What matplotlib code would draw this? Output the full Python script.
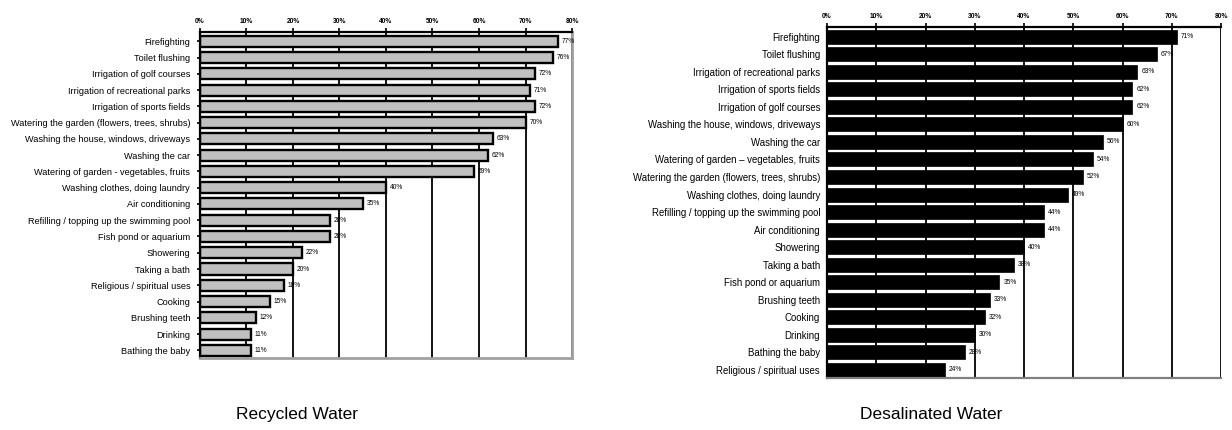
import matplotlib
matplotlib.use("Agg")
import matplotlib.pyplot as plt

plt.rcParams['font.family'] = ['Liberation Sans', 'DejaVu Sans']

rec_labels = [
    "Firefighting", "Toilet flushing", "Irrigation of golf courses",
    "Irrigation of recreational parks", "Irrigation of sports fields",
    "Watering the garden (flowers, trees, shrubs)",
    "Washing the house, windows, driveways", "Washing the car",
    "Watering of garden - vegetables, fruits", "Washing clothes, doing laundry",
    "Air conditioning", "Refilling / topping up the swimming pool",
    "Fish pond or aquarium", "Showering", "Taking a bath",
    "Religious / spiritual uses", "Cooking", "Brushing teeth", "Drinking",
    "Bathing the baby",
]
rec_values = [77, 76, 72, 71, 72, 70, 63, 62, 59, 40, 35, 28, 28, 22, 20, 18, 15, 12, 11, 11]

des_labels = [
    "Firefighting", "Toilet flushing", "Irrigation of recreational parks",
    "Irrigation of sports fields", "Irrigation of golf courses",
    "Washing the house, windows, driveways", "Washing the car",
    "Watering of garden \u2013 vegetables, fruits",
    "Watering the garden (flowers, trees, shrubs)",
    "Washing clothes, doing laundry", "Refilling / topping up the swimming pool",
    "Air conditioning", "Showering", "Taking a bath", "Fish pond or aquarium",
    "Brushing teeth", "Cooking", "Drinking", "Bathing the baby",
    "Religious / spiritual uses",
]
des_values = [71, 67, 63, 62, 62, 60, 56, 54, 52, 49, 44, 44, 40, 38, 35, 33, 32, 30, 28, 24]

ticks = [0, 10, 20, 30, 40, 50, 60, 70, 80]
tick_labels = [f"{t}%" for t in ticks]

fig = plt.figure(figsize=(12.32, 4.30), dpi=100)

# Left chart: Recycled Water
ax1 = fig.add_axes([0.1623, 0.1674, 0.302, 0.7582])
y1 = list(range(len(rec_labels)))
ax1.set_axisbelow(True)
ax1.barh(y1, rec_values, height=0.68, color="#c0c0c0", edgecolor="black", linewidth=1.7)
ax1.set_xlim(0, 80)
ax1.set_ylim(19.47, -0.57)
ax1.set_xticks(ticks)
ax1.set_xticklabels(tick_labels, fontsize=4.8, fontweight="bold")
ax1.xaxis.tick_top()
ax1.tick_params(axis="x", length=3, width=1.2, pad=2)
ax1.set_yticks(y1)
ax1.set_yticklabels(rec_labels, fontsize=6.6)
ax1.tick_params(axis="y", length=2, width=1.2, pad=5)
ax1.grid(axis="x", color="black", linewidth=1.3)
for s in ["top", "left"]:
    ax1.spines[s].set_linewidth(1.6)
    ax1.spines[s].set_color("black")
for s in ["right", "bottom"]:
    ax1.spines[s].set_linewidth(2.0)
    ax1.spines[s].set_color("#a0a0a0")
for yy, v in zip(y1, rec_values):
    ax1.text(v + 0.8, yy, f"{v}%", fontsize=4.8, va="center", ha="left")
fig.text(0.241, 0.037, "Recycled Water", fontsize=12.5, ha="center", va="center")

# Right chart: Desalinated Water
ax2 = fig.add_axes([0.6713, 0.1209, 0.3198, 0.8163])
y2 = list(range(len(des_labels)))
ax2.set_axisbelow(True)
ax2.barh(y2, des_values, height=0.8, color="black", edgecolor="black", linewidth=0.5)
ax2.set_xlim(0, 80)
ax2.set_ylim(19.46, -0.55)
ax2.set_xticks(ticks)
ax2.set_xticklabels(tick_labels, fontsize=4.8, fontweight="bold")
ax2.xaxis.tick_top()
ax2.tick_params(axis="x", length=3, width=1.2, pad=2)
ax2.set_yticks(y2)
ax2.set_yticklabels(des_labels, fontsize=6.9)
ax2.tick_params(axis="y", length=0, pad=5)
ax2.grid(axis="x", color="black", linewidth=1.3)
ax2.spines["right"].set_visible(False)
for s in ["top", "left", "bottom"]:
    ax2.spines[s].set_linewidth(1.6)
    ax2.spines[s].set_color("black")
ax2.spines["bottom"].set_color("#808080")
for yy, v in zip(y2, des_values):
    ax2.text(v + 0.8, yy, f"{v}%", fontsize=4.8, va="center", ha="left")
fig.text(0.756, 0.037, "Desalinated Water", fontsize=12.5, ha="center", va="center")

fig.savefig("out.png", dpi=100, facecolor="white")
